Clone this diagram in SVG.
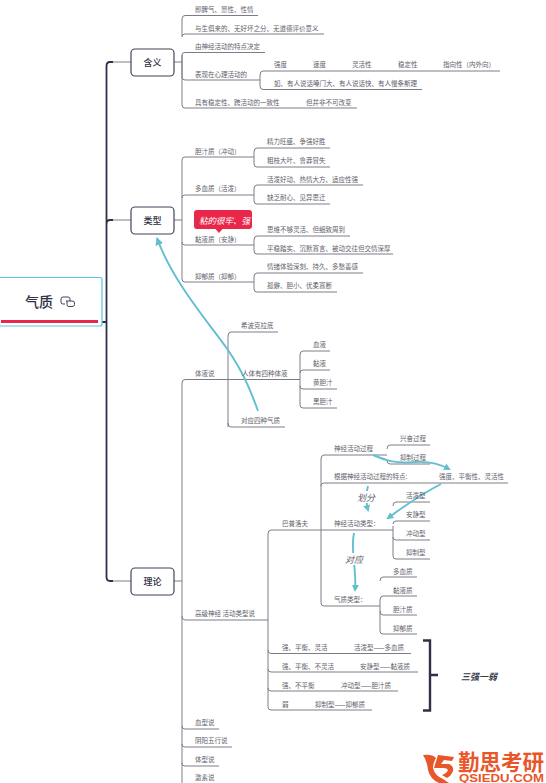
<svg xmlns="http://www.w3.org/2000/svg" width="546" height="783" viewBox="0 0 546 783">
<style>
text{font-family:"Noto Sans CJK SC","Noto Sans",sans-serif}
.t{font-size:6.5px;fill:#60606a;dominant-baseline:central}
.l{fill:none;stroke:#7c7c88;stroke-width:1}
.m{fill:none;stroke:#2f3045;stroke-width:1.8}
.a{fill:none;stroke:#62bfcf;stroke-width:1.9}
.box{fill:#fff;stroke:#43435a;stroke-width:1.2}
.b{font-size:9px;fill:#2f3045;text-anchor:middle;dominant-baseline:central;font-weight:500}
.i{font-size:9px;fill:#60606a;font-style:italic;dominant-baseline:central;text-anchor:middle}
.logo{fill:#e8562a}
</style>
<defs>
<marker id="ah" markerWidth="7" markerHeight="7" refX="5" refY="3.5" orient="auto" markerUnits="userSpaceOnUse"><path d="M0 0L7 3.5L0 7Z" fill="#62bfcf"/></marker>
<marker id="ab" markerWidth="8" markerHeight="8" refX="7" refY="4" orient="auto" markerUnits="userSpaceOnUse"><path d="M0 0L8 4L0 8Z" fill="#62bfcf"/></marker>
</defs>
<g id="connectors">
<path class="m" d="M102 322H106.500M106.500 66V577Q106.500 581 110 581H113M106.500 66Q106.500 62 110 62H113M106.500 224Q106.500 220 110 220H113"/>
<path class="l" d="M113 62H131M113 220H131M113 581H131"/>
<path class="l" d="M174 62H182M185 15.500H258M182 36V19Q182 15.500 185 15.500M182 37Q182 34 185 34H324M182 55Q182 52.500 185 52.500H265M182 55V77Q182 80 185 80H258M182 55V105Q182 108 185 108H357"/>
<path class="l" d="M258 80H260M260 75Q260 71 263 71H500M260 75V86Q260 89.500 263 89.500H422"/>
<path class="l" d="M174 220H182M182 160Q182 157 185 157H254M182 160V279Q182 282 185 282H254M182 198Q182 195 185 195H254M182 242Q182 245 185 245H254"/>
<path class="l" d="M254 152Q254 148 257 148H330M254 152V164Q254 167 257 167H330M254 189Q254 185 257 185H363M254 189V201Q254 204 257 204H330M254 240Q254 236 257 236H350M254 240V251Q254 254 257 254H393M254 277Q254 273 257 273H363M254 277V289Q254 292 257 292H337"/>
<path class="l" d="M174 581H182M182 783V383Q182 379.500 185 379.500H300M228 427V336Q228 332 231 332H278M228 423Q228 427 231 427H285"/>
<path class="l" d="M300 379.500V355Q300 351 303 351H330M300 373Q300 370 303 370H330M300 386Q300 389 303 389H337M300 379.500V405Q300 408 303 408H337"/>
<path class="l" d="M182 616Q182 620 185 620H268M268 707V534Q268 530 271 530H393M268 650Q268 653.500 271 653.500H411M268 669Q268 672 271 672H418M268 688Q268 691 271 691H398M268 707Q268 710 271 710H372"/>
<path class="l" d="M321 603V459Q321 455 324 455H387M321 486Q321 483 324 483H508M321 603Q321 606 324 606H380"/>
<path class="l" d="M387 449Q387 445 390 445H430M387 460Q387 464 390 464H430M393 506Q393 502 396 502H430M393 524Q393 521 396 521H430M393 537Q393 540 396 540H430M393 526V556Q393 559 396 559H430M380 581Q380 577 383 577H417M380 600Q380 596 383 596H417M380 611Q380 615 383 615H417M380 600V631Q380 634 383 634H417"/>
<path class="l" d="M182 726Q182 729 185 729H219M182 744Q182 747 185 747H232M182 763Q182 766 185 766H219"/>
<path class="a" marker-end="url(#ab)" d="M258 411C247 380 238 365 228 350C205 318 172 280 157 238"/>
<path class="a" marker-end="url(#ah)" d="M373 455C385 460 395 464 415 462C430 461 440 464 449 469"/>
<path class="a" marker-end="url(#ah)" d="M441 484C420 495 403 507 388 518"/>
<path class="a" marker-end="url(#ah)" d="M368 486C366 492 366 503 368 510"/>
<path class="a" marker-end="url(#ah)" d="M354 533C350 550 357 570 355 590"/>
<path fill="none" stroke="#2f3045" stroke-width="2.400" d="M423 640.500H430V710.500H423M430 675H438"/>
</g>
<g id="root">
<rect x="-4" y="277.500" width="106" height="48.500" rx="2" fill="#fff" stroke="#5cc3e4" stroke-width="1.200"/>
<path d="M1 321.500H98" stroke="#e8274b" stroke-width="3.200"/>
<text x="39" y="300.500" font-size="14" font-weight="500" fill="#2f3045" text-anchor="middle" dominant-baseline="central">气质</text>
<path fill="none" stroke="#43435a" stroke-width="1" d="M65 304H63Q61 304 61 302V299Q61 297 63 297H68Q70 297 70 299V301M66 301H72Q74.500 301 74.500 303V304.500Q74.500 306.500 72 306.500H69Q67 306.500 67 304.500V301"/>
</g>
<g id="n-hanyi"><rect class="box" x="131" y="49" width="43" height="27" rx="4"/><text class="b" x="152.500" y="62.500">含义</text></g>
<g id="n-leixing"><rect class="box" x="131" y="207" width="43" height="27" rx="4"/><text class="b" x="152.500" y="220.500">类型</text></g>
<g id="n-lilun"><rect class="box" x="131" y="568" width="43" height="27" rx="4"/><text class="b" x="152.500" y="581.500">理论</text></g>
<g id="callout">
<path d="M197 210H249Q252 210 252 213V226Q252 229 249 229H222.500L219 233L215.500 229H197Q194 229 194 226V213Q194 210 197 210Z" fill="#e8274b"/>
<text x="199" y="219.500" font-size="8.500" font-style="italic" fill="#fff" dominant-baseline="central">粘的很牢、强</text>
</g>
<g id="labels">
<text class="t" x="195" y="9">即脾气、禀性、性情</text>
<text class="t" x="195" y="27.500">与生俱来的、无好坏之分、无道德评价意义</text>
<text class="t" x="195" y="46">由神经活动的特点决定</text>
<text class="t" x="195" y="73.500">表现在心理活动的</text>
<text class="t" x="195" y="101.500">具有稳定性、跨活动的一致性</text>
<text class="t" x="306" y="101.500">但并非不可改变</text>
<text class="t" x="274" y="64">强度</text>
<text class="t" x="313" y="64">速度</text>
<text class="t" x="352" y="64">灵活性</text>
<text class="t" x="398" y="64">稳定性</text>
<text class="t" x="443" y="64">指向性（内外向）</text>
<text class="t" x="274" y="83">如、有人说话嗓门大、有人说话快、有人慢条斯理</text>
<text class="t" x="195" y="150.500">胆汁质（冲动）</text>
<text class="t" x="195" y="188">多血质（活泼）</text>
<text class="t" x="195" y="238.500">黏液质（安静）</text>
<text class="t" x="195" y="275.500">抑郁质（抑郁）</text>
<text class="t" x="267" y="141">精力旺盛、争强好胜</text>
<text class="t" x="267" y="160">粗枝大叶、鲁莽冒失</text>
<text class="t" x="267" y="178.500">活泼好动、热情大方、适应性强</text>
<text class="t" x="267" y="197">缺乏耐心、见异思迁</text>
<text class="t" x="267" y="229">思维不够灵活、但细致周到</text>
<text class="t" x="267" y="248">平稳踏实、沉默寡言、被动交往但交情深厚</text>
<text class="t" x="267" y="266">情绪体验深刻、持久、多愁善感</text>
<text class="t" x="267" y="285">孤僻、胆小、优柔寡断</text>
<text class="t" x="195" y="373">体液说</text>
<text class="t" x="241" y="325">希波克拉底</text>
<text class="t" x="242" y="373">人体有四种体液</text>
<text class="t" x="241" y="420">对应四种气质</text>
<text class="t" x="313" y="344">血液</text>
<text class="t" x="313" y="363">黏液</text>
<text class="t" x="313" y="382">黄胆汁</text>
<text class="t" x="313" y="401">黑胆汁</text>
<text class="t" x="195" y="613">高级神经 活动类型说</text>
<text class="t" x="282" y="523">巴普洛夫</text>
<text class="t" x="334" y="448">神经活动过程</text>
<text class="t" x="400" y="438">兴奋过程</text>
<text class="t" x="400" y="457">抑制过程</text>
<text class="t" x="334" y="476">根据神经活动过程的特点:</text>
<text class="t" x="439" y="476">强度、平衡性、灵活性</text>
<text class="t" x="334" y="523">神经活动类型：</text>
<text class="t" x="406" y="495">活泼型</text>
<text class="t" x="406" y="514">安静型</text>
<text class="t" x="406" y="533">冲动型</text>
<text class="t" x="406" y="552">抑制型</text>
<text class="t" x="334" y="599">气质类型：</text>
<text class="t" x="393" y="571">多血质</text>
<text class="t" x="393" y="590">黏液质</text>
<text class="t" x="393" y="609">胆汁质</text>
<text class="t" x="393" y="628">抑郁质</text>
<text class="t" x="282" y="647">强、平衡、灵活</text>
<text class="t" x="354" y="647">活泼型——多血质</text>
<text class="t" x="282" y="665.500">强、平衡、不灵活</text>
<text class="t" x="360" y="665.500">安静型——黏液质</text>
<text class="t" x="282" y="684.500">强、不平衡</text>
<text class="t" x="341" y="684.500">冲动型——胆汁质</text>
<text class="t" x="282" y="703.500">弱</text>
<text class="t" x="315" y="703.500">抑制型——抑郁质</text>
<text class="t" x="195" y="722">血型说</text>
<text class="t" x="195" y="740">阴阳五行说</text>
<text class="t" x="195" y="758.500">体型说</text>
<text class="t" x="195" y="777">激素说</text>
<rect x="356" y="491" width="20" height="12" fill="#fff"/>
<text class="i" x="366" y="497">划分</text>
<rect x="344" y="553" width="20" height="12" fill="#fff"/>
<text class="i" x="354" y="559">对应</text>
<text x="461" y="676" font-size="9" font-weight="700" font-style="italic" fill="#3a3a4a" dominant-baseline="central">三强一弱</text>
</g>
<g id="watermark">
<path class="logo" d="M423 755Q432 754 436 758Q433 763 433 768Q435 776 443 779L449 783H439Q430 779 428 770Q427 761 423 755Z"/>
<path class="logo" d="M438 755L454 757L452 761L444 760L441 764H449Q454 766 453 771Q451 776 447 778L442 775Q447 773 448 770Q447 768 444 768H434Z"/>
<text x="458" y="770" font-size="21.500" font-weight="700" fill="#e8562a">勤思考研</text>
<text x="459" y="782" font-size="10.500" font-weight="700" fill="#e8562a" textLength="85" lengthAdjust="spacingAndGlyphs" style="font-family:'Liberation Sans',sans-serif">QSIEDU.COM</text>
</g>
</svg>
